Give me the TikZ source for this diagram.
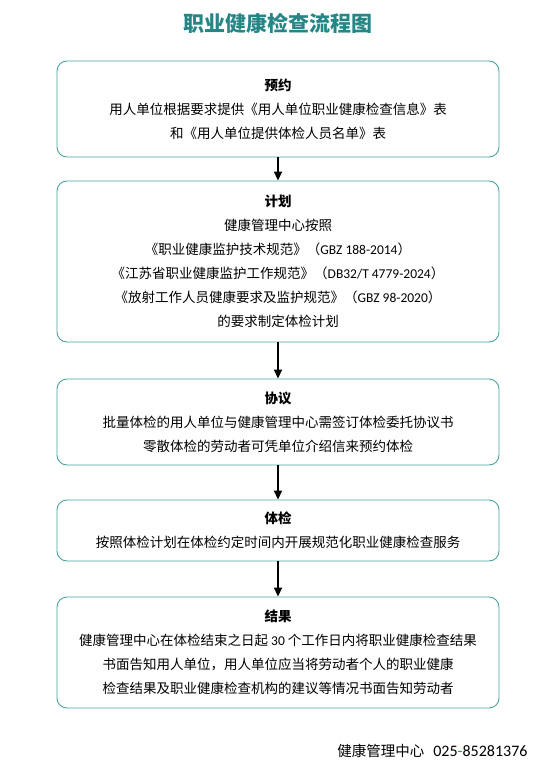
\documentclass[tikz,border=0pt]{standalone}
\usepackage{fontspec}
\usepackage{tikz}
\usetikzlibrary{arrows.meta}
\setmainfont{Noto Sans CJK SC}
\newfontfamily\lat{Carlito}
\definecolor{titleteal}{RGB}{38,134,134}
\definecolor{boxteal}{RGB}{72,164,160}
\definecolor{dashgreen}{RGB}{30,150,60}
\begin{document}
\begin{tikzpicture}[x=1pt,y=-1pt,
    stepbox/.style={draw=boxteal,line width=0.9pt,rounded corners=10pt,minimum width=442pt,
      inner sep=0,align=center,font=\fontsize{13.5pt}{24pt}\selectfont},
    flow/.style={-{Triangle[width=8pt,length=9pt]},line width=1.8pt}]
        \useasboundingbox (0,0) rectangle (558,771);
        \node[font=\bfseries\fontsize{21pt}{21pt}\selectfont,text=titleteal] (title) at (278,23.5) {职业健康检查流程图};
        \node[stepbox,minimum height=96pt] (yuyue) at (278,109) {{\bfseries 预约}\\
          用人单位根据要求提供《用人单位职业健康检查信息》表\\
          和《用人单位提供体检人员名单》表};
        \node[stepbox,minimum height=161pt] (jihua) at (278,261.5) {{\bfseries 计划}\\
          健康管理中心按照\\
          《职业健康监护技术规范》（{\lat GBZ 188-2014}）\\
          《江苏省职业健康监护工作规范》（{\lat DB32/T 4779-2024}）\\
          《放射工作人员健康要求及监护规范》（{\lat GBZ 98-2020}）\\
          的要求制定体检计划};
        \node[stepbox,minimum height=86pt] (xieyi) at (278,422) {{\bfseries 协议}\\
          批量体检的用人单位与健康管理中心需签订体检委托协议书\\
          零散体检的劳动者可凭单位介绍信来预约体检};
        \node[stepbox,minimum height=61pt] (tijian) at (278,530.5) {{\bfseries 体检}\\
          按照体检计划在体检约定时间内开展规范化职业健康检查服务};
        \node[stepbox,minimum height=111pt] (jieguo) at (278,652.5) {{\bfseries 结果}\\
          健康管理中心在体检结束之日起 {\lat 30} 个工作日内将职业健康检查结果\\
          书面告知用人单位，用人单位应当将劳动者个人的职业健康\\
          检查结果及职业健康检查机构的建议等情况书面告知劳动者};
        \draw[flow] (yuyue.south) -- (jihua.north);
        \draw[flow] (jihua.south) -- (xieyi.north);
        \draw[flow] (xieyi.south) -- (tijian.north);
        \draw[flow] (tijian.south) -- (jieguo.north);
        \node[anchor=east,font=\fontsize{14.5pt}{14.5pt}\selectfont] (tel) at (531,751) {健康管理中心\hspace{9pt}{\lat\fontsize{16pt}{16pt}\selectfont 025{\color{dashgreen}-}85281376}};
      \end{tikzpicture}
\end{document}
